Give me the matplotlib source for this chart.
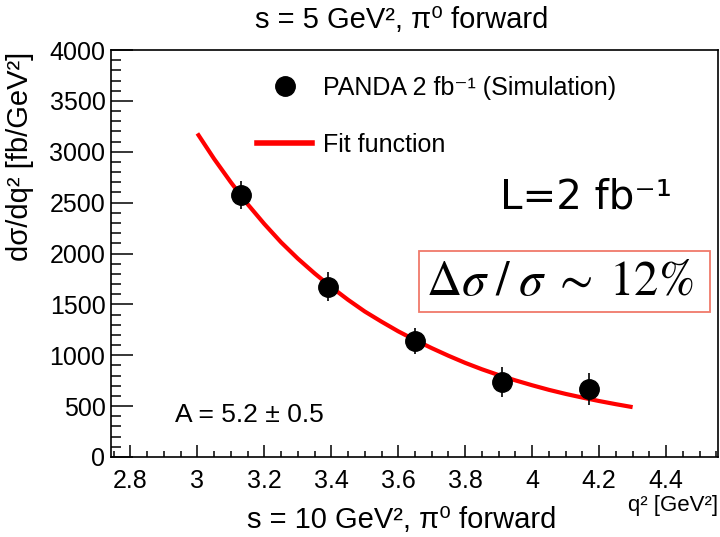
#!/usr/bin/env python3

import matplotlib

matplotlib.use("Agg")
import matplotlib.pyplot as plt
from matplotlib.lines import Line2D
from matplotlib.patches import Rectangle
from matplotlib.ticker import MultipleLocator

plt.rcParams["font.family"] = ["Liberation Sans", "DejaVu Sans"]
plt.rcParams["mathtext.fontset"] = "stix"

# PANDA simulated points
q2_points = [3.13, 3.39, 3.65, 3.91, 4.17]
xsec_points = [2575, 1675, 1140, 740, 670]
xsec_errors = [138, 140, 132, 148, 158]

# Fit function
q2_fit = [3.0, 3.05, 3.1, 3.15, 3.2, 3.25, 3.3, 3.35, 3.4, 3.45, 3.5, 3.55, 3.6, 3.65,
          3.7, 3.75, 3.8, 3.85, 3.9, 3.95, 4.0, 4.05, 4.1, 4.15, 4.2, 4.25, 4.3]
xsec_fit = [3180, 2930, 2700, 2485, 2290, 2110, 1950, 1805, 1670, 1545, 1430, 1330,
            1235, 1150, 1070, 995, 925, 862, 805, 753, 705, 660, 620, 584, 550, 519, 490]

x_ticks = [2.8, 3.0, 3.2, 3.4, 3.6, 3.8, 4.0, 4.2, 4.4]
x_tick_labels = ["2.8", "3", "3.2", "3.4", "3.6", "3.8", "4", "4.2", "4.4"]

W, H = 720, 537


def fx(px):
    return px / W


def fy(py):
    return 1 - py / H


fig = plt.figure(figsize=(7.2, 5.37), dpi=100)
ax = fig.add_axes([fx(111), fy(457), fx(718) - fx(111), fy(50) - fy(457)])

ax.plot(q2_fit, xsec_fit, color="#ff0000", lw=3, solid_capstyle="butt",
        solid_joinstyle="round", zorder=2)
ax.errorbar(q2_points, xsec_points, yerr=xsec_errors, fmt="o", color="black",
            ms=14, elinewidth=1.2, capsize=0, zorder=3)

ax.set_xlim(2.742, 4.555)
ax.set_ylim(0, 4000)
ax.set_xticks(x_ticks)
ax.set_xticklabels(x_tick_labels)
ax.xaxis.set_minor_locator(MultipleLocator(0.05))
ax.yaxis.set_major_locator(MultipleLocator(500))
ax.yaxis.set_minor_locator(MultipleLocator(100))
ax.tick_params(axis="both", which="both", direction="in", top=False, right=False,
               labelsize=18, width=1.1)
ax.tick_params(axis="x", which="major", length=9, pad=9)
ax.tick_params(axis="x", which="minor", length=4)
ax.tick_params(axis="y", which="major", length=16, pad=4)
ax.tick_params(axis="y", which="minor", length=7)
for sp in ax.spines.values():
    sp.set_linewidth(1.2)

# legend
handles = [
    Line2D([], [], marker="o", color="black", ms=14, ls="none"),
    Line2D([], [], color="#ff0000", lw=4),
]
ax.legend(handles, ["PANDA 2 fb\u207b\u00b9 (Simulation)", "Fit function"],
          loc="upper left", bbox_to_anchor=(fx(257), fy(76)), bbox_transform=fig.transFigure,
          frameon=False, fontsize=18, borderpad=0, borderaxespad=0,
          handlelength=2.2, handletextpad=0.45, labelspacing=1.3)

ax.text(2.933, 410, "A = 5.2 \u00b1 0.5", fontsize=19, va="center", ha="left")

# annotations on the right
fig.text(fx(500), fy(198), "L=2 fb\u207b\u00b9", fontsize=29, va="center", ha="left",
         family=["DejaVu Sans"])
fig.text(fx(560), fy(283), r"$\Delta\sigma\;/\;\sigma\;\sim\;12\%$", fontsize=35,
         va="center", ha="center")
fig.patches.append(Rectangle((fx(419), fy(312)), fx(710) - fx(419), fy(251) - fy(312),
                             transform=fig.transFigure, fill=False,
                             edgecolor="#f07a6a", lw=1.3))

# titles and labels
fig.text(fx(402), fy(20), "s = 5 GeV\u00b2, \u03c0\u2070 forward", fontsize=21,
         ha="center", va="center")
fig.text(fx(402), fy(520), "s = 10 GeV\u00b2, \u03c0\u2070 forward", fontsize=21,
         ha="center", va="center")
fig.text(fx(718), fy(505), "q\u00b2 [GeV\u00b2]", fontsize=16, ha="right", va="center")
fig.text(fx(20), fy(52), "d\u03c3/dq\u00b2 [fb/GeV\u00b2]", fontsize=21, rotation=90,
         ha="center", va="top")

fig.savefig("out.png", dpi=100)
